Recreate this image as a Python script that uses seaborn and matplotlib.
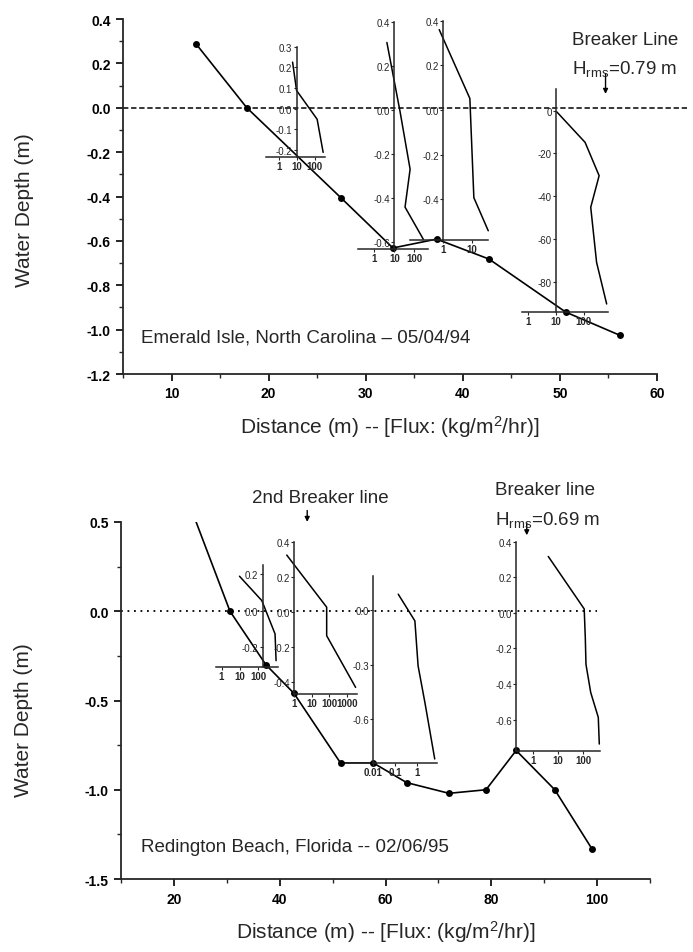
"""Beach profiles with vertical sediment-flux profiles drawn as small insets."""

import matplotlib

matplotlib.use("Agg")
import matplotlib.pyplot as plt
import seaborn as sns
from matplotlib.ticker import MultipleLocator, NullLocator

sns.set_style("ticks")
plt.rcParams["font.family"] = ["Liberation Sans", "DejaVu Sans"]
plt.rcParams["mathtext.default"] = "regular"
plt.rcParams["axes.unicode_minus"] = False

W, H = 693, 953

# ---- main beach profiles -------------------------------------------------
emerald_distance = [12.5, 17.75, 27.5, 32.8, 37.3, 42.7, 50.6, 56.2]
emerald_depth = [0.289, 0.0, -0.408, -0.632, -0.592, -0.682, -0.921, -1.026]

redington_distance = [24.2, 30.6, 37.4, 42.7, 51.5, 57.7, 64.0, 72.0, 79.0, 84.7, 92.0, 99.0]
redington_depth = [0.5, 0.0, -0.30, -0.46, -0.85, -0.85, -0.96, -1.02, -1.0, -0.78, -1.0, -1.33]

top_xticks = [10, 20, 30, 40, 50, 60]
top_yticks = [0.4, 0.2, 0.0, -0.2, -0.4, -0.6, -0.8, -1.0, -1.2]
bottom_xticks = [20, 40, 60, 80, 100]
bottom_yticks = [0.5, 0.0, -0.5, -1.0, -1.5]

# ---- flux profiles (flux, depth) ------------------------------------------
t1_flux = [6.0, 10, 139, 300]
t1_depth = [0.226, 0.088, -0.052, -0.213]
t1_yticks = [0.3, 0.2, 0.1, 0.0, -0.1, -0.2]
t1_xticks = [1, 10, 100]

t2_flux = [4.2, 19, 61, 34, 280]
t2_depth = [0.307, -0.005, -0.268, -0.44, -0.586]
t2_yticks = [0.4, 0.2, 0.0, -0.2, -0.4, -0.6]
t2_xticks = [1, 10, 100]

t3_flux = [0.73, 8.3, 11.4, 35.7]
t3_depth = [0.36, 0.052, -0.392, -0.54]
t3_yticks = [0.4, 0.2, 0.0, -0.2, -0.4]
t3_xticks = [1, 10]

t4_flux = [10.9, 112, 355, 178, 288, 660]
t4_depth = [-0.5, -14.8, -30.4, -45.2, -71, -90.5]
t4_yticks = [0, -20, -40, -60, -80]
t4_xticks = [1, 10, 100]

b1_flux = [9.4, 153, 800, 910]
b1_depth = [0.188, 0.055, -0.127, -0.273]
b1_yticks = [0.2, 0.0, -0.2]
b1_xticks = [1, 10, 100]

b2_flux = [0.37, 71, 71, 3200]
b2_depth = [0.327, 0.029, -0.134, -0.429]
b2_yticks = [0.4, 0.2, 0.0, -0.2, -0.4]
b2_xticks = [1, 10, 100, 1000]

b3_flux = [0.137, 0.785, 1.1, 2.24, 6.3]
b3_depth = [0.088, -0.059, -0.307, -0.508, -0.82]
b3_yticks = [0.0, -0.3, -0.6]
b3_xticks = [0.01, 0.1, 1]

b4_flux = [4.1, 112, 124, 132, 204, 410, 450]
b4_depth = [0.317, 0.022, -0.14, -0.29, -0.448, -0.588, -0.738]
b4_yticks = [0.4, 0.2, 0.0, -0.2, -0.4, -0.6]
b4_xticks = [1, 10, 100]

# inset frames in pixels: (left, right, top, bottom), axis limits, y-spine position
INSETS = [
    ((266, 325, 47.9, 157.7), (0.2, 380), (-0.234, 0.3), 10, t1_flux, t1_depth, t1_xticks, t1_yticks, "%.1f"),
    ((358, 428, 23, 250), (0.15, 480), (-0.63, 0.4), 10, t2_flux, t2_depth, t2_xticks, t2_yticks, "%.1f"),
    ((410, 488, 21.7, 240.7), (0.072, 35), (-0.58, 0.4), 1, t3_flux, t3_depth, t3_xticks, t3_yticks, "%.1f"),
    ((521.7, 608.3, 90, 313.3), (0.61, 755), (-94.4, 10.2), 10, t4_flux, t4_depth, t4_xticks, t4_yticks, "%d"),
    ((216, 278.3, 565.7, 667.7), (0.5, 1200), (-0.306, 0.251), 170, b1_flux, b1_depth, b1_xticks, b1_yticks, "%.1f"),
    ((294.3, 356.7, 543.3, 695), (1, 3700), (-0.467, 0.4), 1, b2_flux, b2_depth, b2_xticks, b2_yticks, "%.1f"),
    ((373.3, 437, 576.7, 764.3), (0.01, 8), (-0.844, 0.19), 0.01, b3_flux, b3_depth, b3_xticks, b3_yticks, "%.1f"),
    ((516, 600, 542.7, 751.8), (0.21, 480), (-0.776, 0.4), 0.21, b4_flux, b4_depth, b4_xticks, b4_yticks, "%.1f"),
]


def px_box(left, right, top, bottom):
    return [left / W, 1 - bottom / H, (right - left) / W, (bottom - top) / H]


def style_main(ax, xlim, ylim, xticks, yticks, xminor, yminor):
    ax.set_xlim(*xlim)
    ax.set_ylim(*ylim)
    ax.set_xticks(xticks)
    ax.set_xticklabels([f"{t:d}" for t in xticks], fontweight="bold")
    ax.set_yticks(yticks)
    ax.set_yticklabels([f"{t:.1f}" for t in yticks], fontweight="bold")
    ax.xaxis.set_minor_locator(MultipleLocator(xminor))
    ax.yaxis.set_minor_locator(MultipleLocator(yminor))
    sns.despine(ax=ax)
    for side in ("left", "bottom"):
        ax.spines[side].set_linewidth(1.3)
    ax.tick_params(which="major", direction="out", length=5, width=1.2, labelsize=10, pad=4, colors="black")
    ax.tick_params(which="minor", direction="out", length=3, width=1.0)
    ax.patch.set_alpha(0)


def draw_inset(fig, box, xlim, ylim, spine_x, flux, depth, xticks, yticks, yfmt):
    ax = fig.add_axes(px_box(*box))
    ax.patch.set_alpha(0)
    ax.set_xscale("log")
    ax.set_xlim(*xlim)
    ax.set_ylim(*ylim)
    sns.lineplot(x=flux, y=depth, sort=False, estimator=None, color="black", lw=1.1, ax=ax, clip_on=False)
    ax.set_xticks(xticks)
    ax.set_xticklabels([f"{t:g}" for t in xticks], fontweight="bold")
    ax.set_yticks(yticks)
    ax.set_yticklabels([yfmt % t for t in yticks], fontweight="bold")
    ax.xaxis.set_minor_locator(NullLocator())
    ax.yaxis.set_minor_locator(NullLocator())
    for side in ("top", "right"):
        ax.spines[side].set_visible(False)
    ax.spines["left"].set_position(("data", spine_x))
    for side in ("left", "bottom"):
        ax.spines[side].set_linewidth(1.1)
    ax.tick_params(direction="out", length=2, width=0.8, labelsize=7, pad=1)
    ax.set_xlabel("")
    ax.set_ylabel("")
    return ax


fig = plt.figure(figsize=(W / 100, H / 100), dpi=100)

# ---- top panel: Emerald Isle ----------------------------------------------
ax_top = fig.add_axes(px_box(123, 657, 20, 375))
style_main(ax_top, (5, 60), (-1.2, 0.4), top_xticks, top_yticks, 5, 0.1)
ax_top.axhline(0, xmin=0, xmax=1.056, color="black", lw=1.1, ls=(0, (3.5, 1.8)), clip_on=False)
sns.lineplot(x=emerald_distance, y=emerald_depth, sort=False, estimator=None, color="black",
             lw=1.2, marker="o", markersize=5, markeredgewidth=0, ax=ax_top)
ax_top.set_xlabel("Distance (m) -- [Flux: (kg/m$^2$/hr)]", fontsize=15)
ax_top.set_ylabel("Water Depth (m)", fontsize=15)
ax_top.xaxis.label.set_va("center")
ax_top.yaxis.label.set_va("center")
ax_top.xaxis.set_label_coords(0.5, (375 - 427) / 355)
ax_top.yaxis.set_label_coords((24 - 123) / 534, (375 - 210) / 355)
ax_top.annotate("", xy=(54.7, 0.05), xytext=(54.7, 0.165),
                arrowprops=dict(arrowstyle="-|>", color="black", lw=1, mutation_scale=7),
                annotation_clip=False)

# ---- bottom panel: Redington Beach ----------------------------------------
ax_bot = fig.add_axes(px_box(121, 650, 523, 880))
style_main(ax_bot, (10, 110), (-1.5, 0.5), bottom_xticks, bottom_yticks, 10, 0.25)
ax_bot.axhline(0, xmin=0, xmax=0.9, color="black", lw=1.3, ls=(0, (1, 2.6)), clip_on=False)
sns.lineplot(x=redington_distance, y=redington_depth, sort=False, estimator=None, color="black",
             lw=1.2, marker="o", markersize=5, markeredgewidth=0,
             markevery=list(range(1, len(redington_distance))), ax=ax_bot)
ax_bot.set_xlabel("Distance (m) -- [Flux: (kg/m$^2$/hr)]", fontsize=15)
ax_bot.set_ylabel("Water Depth (m)", fontsize=15)
ax_bot.xaxis.label.set_va("center")
ax_bot.yaxis.label.set_va("center")
ax_bot.xaxis.set_label_coords(0.5, (880 - 932) / 357)
ax_bot.yaxis.set_label_coords((23 - 121) / 529, (880 - 720) / 357)
for x0, y0, y1 in [(45.2, 0.58, 0.485), (86.7, 0.51, 0.41)]:
    ax_bot.annotate("", xy=(x0, y1), xytext=(x0, y0),
                    arrowprops=dict(arrowstyle="-|>", color="black", lw=1, mutation_scale=7),
                    annotation_clip=False)

for spec in INSETS:
    draw_inset(fig, *spec)

# ---- annotations ------------------------------------------------------------
TEXT_SIZE = 13.5
for x, y, s in [
    (571.7, 45, "Breaker Line"),
    (571.7, 74, "H$_{rms}$=0.79 m"),
    (141, 343, "Emerald Isle, North Carolina \u2013 05/04/94"),
    (251.7, 503, "2nd Breaker line"),
    (495, 495, "Breaker line"),
    (495, 525, "H$_{rms}$=0.69 m"),
    (141, 852, "Redington Beach, Florida -- 02/06/95"),
]:
    fig.text(x / W, 1 - y / H, s, fontsize=TEXT_SIZE, ha="left", va="baseline")

fig.savefig("out.png", dpi=100)
